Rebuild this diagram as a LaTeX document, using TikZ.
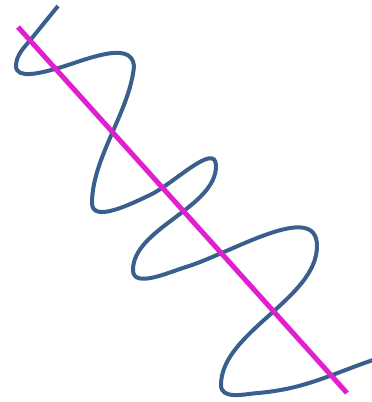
\documentclass[tikz,border=0pt]{standalone}
\usepackage{tikz}
\definecolor{wblue}{HTML}{3A5F8C}
\definecolor{wmagenta}{HTML}{E020CF}

\begin{document}
\begin{tikzpicture}[
    x=1pt, y=1pt,
    wave/.style={draw=wblue, line width=4pt},
    axisline/.style={draw=wmagenta, line width=5pt}
]
    \useasboundingbox (0,0) rectangle (372,-402);

    % Wave
    \draw[wave] (58,-6) -- (32,-38)
        to[out=-129, in=90, looseness=0.9] (16,-66)
        to[out=-90, in=195, looseness=0.9] (55,-69)
        to[out=15, in=95, looseness=0.9] (134,-66)
        to[out=-95, in=90, looseness=0.8] (92,-203)
        to[out=-90, in=205, looseness=0.9] (150,-195)
        to[out=25, in=90, looseness=0.9] (216,-166)
        to[out=-90, in=90, looseness=0.8] (133,-270)
        to[out=-90, in=197, looseness=0.9] (186,-267)
        to[out=17, in=90, looseness=0.9] (317,-246)
        to[out=-90, in=90, looseness=0.8] (221,-385)
        to[out=-90, in=185] (258,-393)
        to[out=5, in=199] (373,-360);

    % Axis
    \draw[axisline] (18,-27) -- (347,-393);
\end{tikzpicture}
\end{document}
